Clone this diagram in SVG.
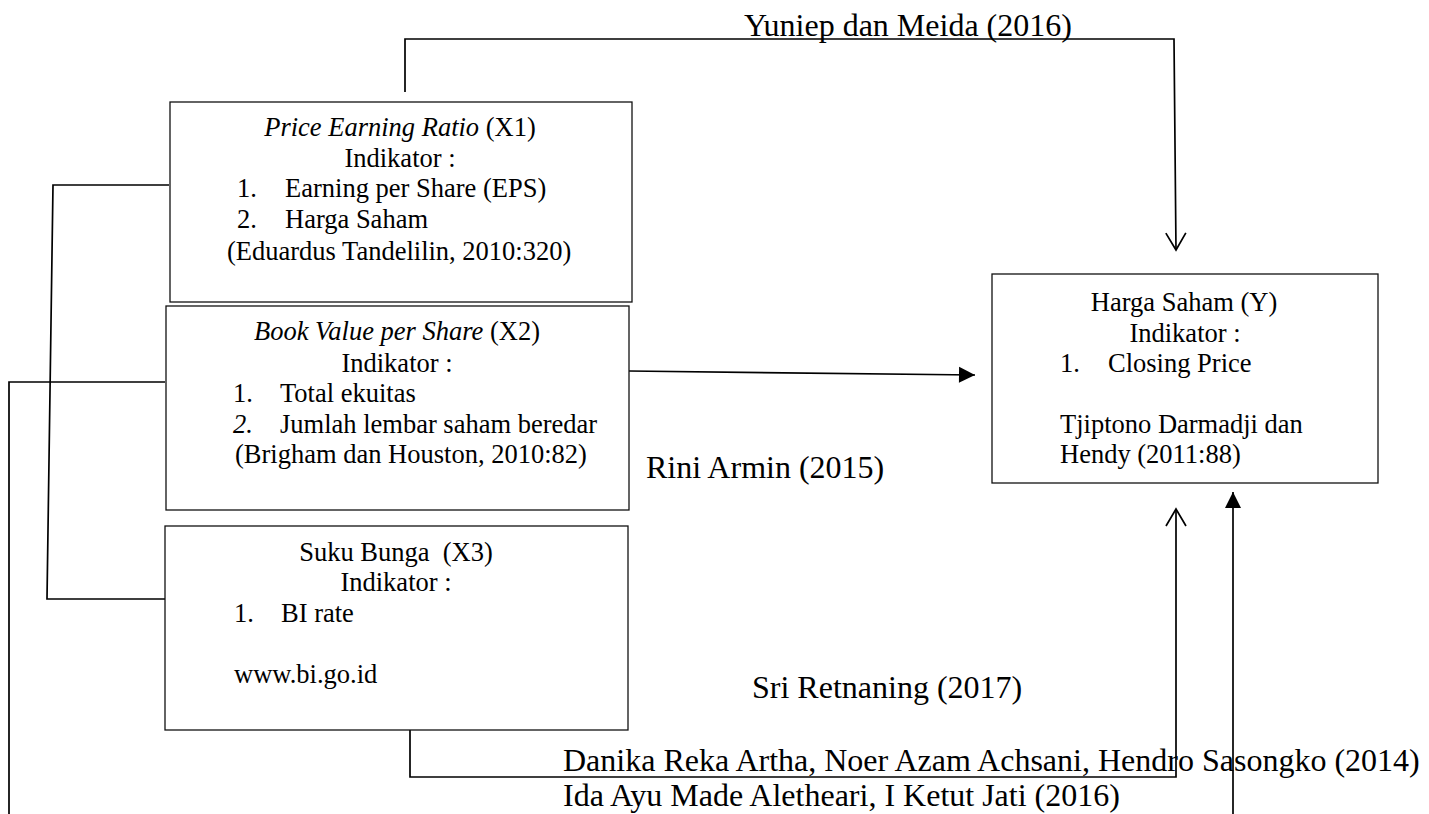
<svg xmlns="http://www.w3.org/2000/svg" width="1429" height="814" viewBox="0 0 1429 814">
<style>
text{font-family:"Liberation Serif","Times New Roman",serif;fill:#000;}
.b{font-size:26.5px;}
.l{font-size:32px;}
.c{text-anchor:middle;}
.i{font-style:italic;}
.box{fill:#fff;stroke:#111;stroke-width:1.3;}
.con{fill:none;stroke:#000;stroke-width:1.7;}
</style>
<defs>
<marker id="open" markerUnits="userSpaceOnUse" markerWidth="40" markerHeight="40" refX="0" refY="0" orient="auto" overflow="visible">
<path d="M -17 -10 L 0 0 L -17 10" fill="none" stroke="#000" stroke-width="1.7"/>
</marker>
<marker id="fill" markerUnits="userSpaceOnUse" markerWidth="40" markerHeight="40" refX="0" refY="0" orient="auto" overflow="visible">
<path d="M -16 -8 L 0 0 L -16 8 Z" fill="#000" stroke="none"/>
</marker>
</defs>
<rect width="1429" height="814" fill="#fff"/>
<g id="connectors">
<polyline class="con" points="405,92 405,39 1174,39 1176,250" marker-end="url(#open)"/>
<polyline class="con" points="629,371 975,375" marker-end="url(#fill)"/>
<polyline class="con" points="169,185 53,185 47,599 165,599"/>
<polyline class="con" points="9,814 9,382 165,382"/>
<polyline class="con" points="410,730 410,777 1176,777 1176,509" marker-end="url(#open)"/>
<polyline class="con" points="1233,814 1233,492" marker-end="url(#fill)"/>
</g>
<g id="node-x1">
<rect class="box" x="170" y="102" width="462" height="200"/>
<text class="b c" x="400" y="136"><tspan class="i">Price Earning Ratio</tspan> (X1)</text>
<text class="b c" x="400" y="167">Indikator :</text>
<text class="b" x="237" y="197">1.</text>
<text class="b" x="285" y="197">Earning per Share (EPS)</text>
<text class="b" x="237" y="228">2.</text>
<text class="b" x="285" y="228">Harga Saham</text>
<text class="b" x="227" y="260">(Eduardus Tandelilin, 2010:320)</text>
</g>
<g id="node-x2">
<rect class="box" x="166" y="306" width="463" height="204"/>
<text class="b c" x="397" y="340"><tspan class="i">Book Value per Share</tspan> (X2)</text>
<text class="b c" x="397" y="372">Indikator :</text>
<text class="b" x="233" y="402">1.</text>
<text class="b" x="280" y="402">Total ekuitas</text>
<text class="b i" x="233" y="433">2.</text>
<text class="b" x="280" y="433">Jumlah lembar saham beredar</text>
<text class="b" x="235" y="463">(Brigham dan Houston, 2010:82)</text>
</g>
<g id="node-x3">
<rect class="box" x="165" y="526" width="463" height="204"/>
<text class="b c" x="396" y="561" xml:space="preserve">Suku Bunga  (X3)</text>
<text class="b c" x="396" y="591">Indikator :</text>
<text class="b" x="234" y="622">1.</text>
<text class="b" x="281" y="622">BI rate</text>
<text class="b" x="234" y="683">www.bi.go.id</text>
</g>
<g id="node-y">
<rect class="box" x="992" y="274" width="386" height="209"/>
<text class="b c" x="1184" y="311">Harga Saham (Y)</text>
<text class="b c" x="1185" y="342">Indikator :</text>
<text class="b" x="1060" y="372">1.</text>
<text class="b" x="1108" y="372">Closing Price</text>
<text class="b" x="1060" y="433">Tjiptono Darmadji dan</text>
<text class="b" x="1060" y="463">Hendy (2011:88)</text>
</g>
<g id="labels">
<text class="l" x="744" y="36">Yuniep dan Meida (2016)</text>
<text class="l" x="646" y="478">Rini Armin (2015)</text>
<text class="l" x="752" y="698">Sri Retnaning (2017)</text>
<text class="l" x="563" y="771">Danika Reka Artha, Noer Azam Achsani, Hendro Sasongko (2014)</text>
<text class="l" x="563" y="806">Ida Ayu Made Aletheari, I Ketut Jati (2016)</text>
</g>
</svg>
